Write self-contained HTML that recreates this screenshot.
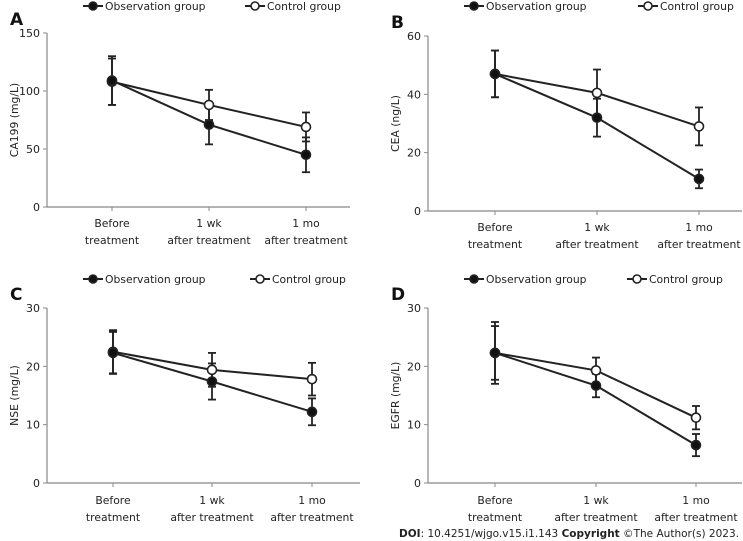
<!DOCTYPE html>
<html><head><meta charset="utf-8"><style>
body{margin:0;background:#fff;}
svg{display:block;font-family:"DejaVu Sans","Liberation Sans",sans-serif;}
</style></head><body>
<svg id="chart" width="743" height="541" viewBox="0 0 743 541"></svg>
<script>
const categories = [["Before","treatment"],["1 wk","after treatment"],["1 mo","after treatment"]];
const seriesNames = ["Observation group","Control group"];
// Panel A CA199
const aObs = [109, 71, 45];
const aObsErr = [21, 17, 15];
const aCtl = [108, 88, 69];
const aCtlErr = [20, 13, 12.5];
const aTicks = [0, 50, 100, 150];
// Panel B CEA
const bObs = [47, 32, 11];
const bObsErr = [8, 6.5, 3.2];
const bCtl = [47, 40.5, 29];
const bCtlErr = [8, 8, 6.5];
const bTicks = [0, 20, 40, 60];
// Panel C NSE
const cObs = [22.3, 17.4, 12.2];
const cObsErr = [3.6, 3.1, 2.3];
const cCtl = [22.5, 19.4, 17.8];
const cCtlErr = [3.7, 2.9, 2.8];
const cTicks = [0, 10, 20, 30];
// Panel D EGFR
const dObs = [22.3, 16.7, 6.5];
const dObsErr = [5.3, 2.0, 1.9];
const dCtl = [22.3, 19.3, 11.2];
const dCtlErr = [4.6, 2.2, 2.0];
const dTicks = [0, 10, 20, 30];

const NS="http://www.w3.org/2000/svg";
const svg=document.getElementById('chart');
function mk(tag,attrs,parent,text){const e=document.createElementNS(NS,tag);for(const k in attrs)e.setAttribute(k,attrs[k]);if(text!==undefined)e.textContent=text;(parent||svg).appendChild(e);return e;}

const panels=[
 {id:'a',letter:'A',title:'CA199 (mg/L)',obs:aObs,obsE:aObsErr,ctl:aCtl,ctlE:aCtlErr,ticks:aTicks,ax:47,top:33,bot:207,right:350,xs:[112,209,306],legY:6,legO:93,legC:255,lab1:223},
 {id:'b',letter:'B',title:'CEA (ng/L)',obs:bObs,obsE:bObsErr,ctl:bCtl,ctlE:bCtlErr,ticks:bTicks,ax:428,top:36,bot:211,right:742,xs:[495,597,699],legY:6,legO:474,legC:648,lab1:227},
 {id:'c',letter:'C',title:'NSE (mg/L)',obs:cObs,obsE:cObsErr,ctl:cCtl,ctlE:cCtlErr,ticks:cTicks,ax:47,top:308,bot:483,right:360,xs:[113,212,312],legY:279,legO:93,legC:260,lab1:500},
 {id:'d',letter:'D',title:'EGFR (mg/L)',obs:dObs,obsE:dObsErr,ctl:dCtl,ctlE:dCtlErr,ticks:dTicks,ax:428,top:308,bot:483,right:742,xs:[495,596,696],legY:279,legO:474,legC:637,lab1:500}
];

panels.forEach(p=>{
 const g=mk('g',{});
 
 
 const maxT=p.ticks[p.ticks.length-1];
 const y=v=>p.bot-(v/maxT)*(p.bot-p.top);
 const lg=mk('g',{},g);
 
 
 [[p.legO,'#111'],[p.legC,'#fff']].forEach((m,i)=>{
  const e=mk('g',{},lg);
  
  
  mk('line',{x1:m[0]-10,x2:m[0]+10,y1:p.legY,y2:p.legY,stroke:'#222','stroke-width':2},e);
  mk('circle',{cx:m[0],cy:p.legY,r:4,fill:m[1],stroke:'#222','stroke-width':1.6},e);
  mk('text',{x:m[0]+12,y:p.legY+4,'font-size':10.8,fill:'#222'},e,seriesNames[i]);
 });
 const L=mk('text',{x:p.ax-37,y:p.top-8,'font-size':17,'font-weight':'bold',fill:'#111'},g,p.letter);
 
 
 const ax=mk('g',{},g);
 
 
 mk('line',{x1:p.ax,x2:p.ax,y1:p.top,y2:p.bot,stroke:'#888','stroke-width':1.2},ax);
 mk('line',{x1:p.ax,x2:p.right,y1:p.bot,y2:p.bot,stroke:'#888','stroke-width':1.2},ax);
 p.ticks.forEach(t=>{
  mk('line',{x1:p.ax-4,x2:p.ax,y1:y(t),y2:y(t),stroke:'#888'},ax);
  const tt=mk('text',{x:p.ax-7,y:y(t)+4,'font-size':11,'text-anchor':'end',fill:'#222'},ax,String(t));
  
  
 });
 p.xs.forEach((x,i)=>{
  mk('line',{x1:x,x2:x,y1:p.bot,y2:p.bot+4,stroke:'#888'},ax);
  categories[i].forEach((s,j)=>{
   const tt=mk('text',{x:x,y:p.lab1+4+j*17,'font-size':10.8,'text-anchor':'middle',fill:'#222'},ax,s);
   
   
  });
 });
 const yt=mk('text',{x:0,y:0,'font-size':10.8,'text-anchor':'middle',fill:'#222',transform:`translate(${p.ax-29},${(p.top+p.bot)/2}) rotate(-90)`},ax,p.title);
 
 
 [[p.ctl,p.ctlE,'#fff','control'],[p.obs,p.obsE,'#111','observation']].forEach(s=>{
  const sg=mk('g',{},g);
  
  
  s[0].forEach((v,i)=>{
   const x=p.xs[i];
   mk('line',{x1:x,x2:x,y1:y(v-s[1][i]),y2:y(v+s[1][i]),stroke:'#222','stroke-width':1.8},sg);
   mk('line',{x1:x-4,x2:x+4,y1:y(v-s[1][i]),y2:y(v-s[1][i]),stroke:'#222','stroke-width':1.8},sg);
   mk('line',{x1:x-4,x2:x+4,y1:y(v+s[1][i]),y2:y(v+s[1][i]),stroke:'#222','stroke-width':1.8},sg);
  });
  const pts=s[0].map((v,i)=>p.xs[i]+','+y(v)).join(' ');
  const pl=mk('polyline',{points:pts,fill:'none',stroke:'#222','stroke-width':2},sg);
  
  
 });
 [[p.ctl,'#fff','control'],[p.obs,'#111','observation']].forEach(s=>{
  s[0].forEach((v,i)=>{
   const c=mk('circle',{cx:p.xs[i],cy:y(v),r:4.5,fill:s[1],stroke:'#222','stroke-width':1.6},g);
   
   
  });
 });
});
const doi=mk('text',{x:399,y:537,'font-size':11,fill:'#222',textLength:340,lengthAdjust:'spacingAndGlyphs'});


mk('tspan',{'font-weight':'bold'},doi,'DOI');
mk('tspan',{},doi,': 10.4251/wjgo.v15.i1.143 ');
mk('tspan',{'font-weight':'bold'},doi,'Copyright');
mk('tspan',{},doi,' ©The Author(s) 2023.');
</script>
</body></html>
